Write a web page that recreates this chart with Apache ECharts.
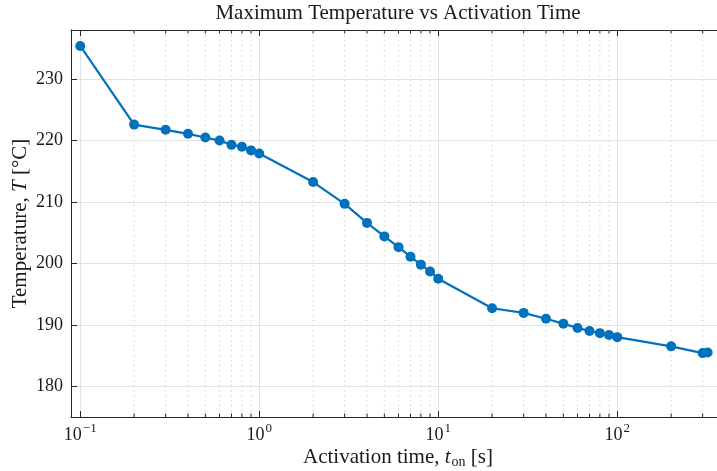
<!DOCTYPE html>
<html>
<head>
<meta charset="utf-8">
<script src="https://cdn.jsdelivr.net/npm/echarts@6/dist/echarts.min.js"></script>
<style>html,body{margin:0;padding:0;background:#fff;}#c{width:717px;height:471px;}</style>
</head>
<body>
<div id="c"></div>
<script>
const activationTime = [0.1,0.2,0.3,0.4,0.5,0.6,0.7,0.8,0.9,1,2,3,4,5,6,7,8,9,10,20,30,40,50,60,70,80,90,100,200,300,320];
const maxTemperature = [235.4,222.6,221.75,221.1,220.5,220.0,219.3,219.0,218.4,217.9,213.25,209.7,206.6,204.4,202.65,201.1,199.8,198.7,197.5,192.7,191.95,191.0,190.2,189.5,189.0,188.65,188.35,188.0,186.5,185.4,185.5];
const minorTickValues = [0.2,0.3,0.4,0.5,0.6,0.7,0.8,0.9,2,3,4,5,6,7,8,9,20,30,40,50,60,70,80,90,200,300];
const titleText = 'Maximum Temperature vs Activation Time';

const FONT = '"Liberation Serif", "Times New Roman", serif';
const TXT = '#1a1a1a';
const AX = '#262626';
const X_MIN = 0.0888, X_MAX = 400, Y_MIN = 175, Y_MAX = 238;

const chart = echarts.init(document.getElementById('c'), null, {renderer: 'canvas'});

function expLabel(v) {
  const e = Math.log10(v);
  const r = Math.round(e);
  if (Math.abs(e - r) > 1e-6) return '';
  const s = r < 0 ? '\u2212' + (-r) : String(r);
  return '{b|10}{e|' + s + '}';
}

const option = {
  backgroundColor: '#ffffff',
  animation: false,
  grid: {left: 71, right: -8, top: 30, bottom: 54, containLabel: false, outerBoundsMode: 'none'},
  xAxis: [
    {
      type: 'log', logBase: 10, min: X_MIN, max: X_MAX, position: 'bottom',
      axisLine: {show: true, lineStyle: {color: AX, width: 1}},
      axisTick: {show: true, inside: true, length: 6, lineStyle: {color: AX}},
      splitLine: {show: true, lineStyle: {color: '#e2e2e2', width: 1}},
      minorTick: {show: false}, minorSplitLine: {show: false},
      axisLabel: {
        show: true, margin: 5, showMinLabel: false, showMaxLabel: false,
        formatter: expLabel,
        rich: {
          b: {fontFamily: FONT, fontSize: 18, color: TXT, lineHeight: 22, verticalAlign: 'bottom'},
          e: {fontFamily: FONT, fontSize: 13, color: TXT, lineHeight: 22, verticalAlign: 'top', padding: [0,0,0,1]}
        }
      },
      name: '{r|Activation time, }{i|t}{s|on}{r| [s]}',
      nameLocation: 'middle', nameGap: 28, nameMoveOverlap: false,
      nameTextStyle: {
        rich: {
          r: {fontFamily: FONT, fontSize: 21, color: TXT, lineHeight: 24},
          i: {fontFamily: FONT, fontSize: 21, fontStyle: 'italic', color: TXT, lineHeight: 24},
          s: {fontFamily: FONT, fontSize: 14, color: TXT, lineHeight: 24, verticalAlign: 'bottom', padding: [6,0,0,1]}
        }
      }
    },
    {
      type: 'log', logBase: 10, min: X_MIN, max: X_MAX, position: 'top',
      axisLine: {show: true, lineStyle: {color: AX, width: 1}},
      axisTick: {show: true, inside: true, length: 6, lineStyle: {color: AX}},
      splitLine: {show: false},
      axisLabel: {show: false},
      name: titleText,
      nameLocation: 'middle', nameGap: 6, nameMoveOverlap: false,
      nameTextStyle: {fontFamily: FONT, fontSize: 21, color: TXT, verticalAlign: 'bottom'}
    }
  ],
  yAxis: {
    type: 'value', min: Y_MIN, max: Y_MAX,
    axisLine: {show: true, lineStyle: {color: AX, width: 1}},
    axisTick: {show: true, inside: true, length: 6, lineStyle: {color: AX}},
    splitLine: {show: true, lineStyle: {color: '#e2e2e2', width: 1}},
    axisLabel: {
      margin: 8, showMinLabel: false, showMaxLabel: false,
      fontFamily: FONT, fontSize: 18, color: TXT
    },
    name: '{r|Temperature, }{i|T}{r| [°C]}',
    nameLocation: 'middle', nameGap: 39, nameRotate: 90, nameMoveOverlap: false,
    nameTextStyle: {
      rich: {
        r: {fontFamily: FONT, fontSize: 21, color: TXT, lineHeight: 24},
        i: {fontFamily: FONT, fontSize: 21, fontStyle: 'italic', color: TXT, lineHeight: 24}
      }
    }
  },
  series: [
    {
      type: 'custom', xAxisIndex: 0, yAxisIndex: 0, silent: true, z: 1,
      data: minorTickValues.map(v => [v]),
      renderItem: function (params, api) {
        const x = api.coord([api.value(0), Y_MIN])[0];
        const cs = params.coordSys;
        const top = cs.y, bot = cs.y + cs.height;
        return {
          type: 'group',
          children: [
            {type: 'line', shape: {x1: x, y1: top, x2: x, y2: bot},
             style: {stroke: '#d4d4d4', lineWidth: 1, lineDash: [1.5, 3.5]}},
            {type: 'line', shape: {x1: x, y1: bot, x2: x, y2: bot - 3.5},
             style: {stroke: AX, lineWidth: 1}},
            {type: 'line', shape: {x1: x, y1: top, x2: x, y2: top + 3.5},
             style: {stroke: AX, lineWidth: 1}}
          ]
        };
      }
    },
    {
      type: 'line', xAxisIndex: 0, yAxisIndex: 0, z: 3,
      data: activationTime.map((t, i) => [t, maxTemperature[i]]),
      symbol: 'circle', symbolSize: 10,
      lineStyle: {color: '#0072BD', width: 2.2},
      itemStyle: {color: '#0072BD'}
    }
  ]
};
chart.setOption(option);
</script>
</body>
</html>
